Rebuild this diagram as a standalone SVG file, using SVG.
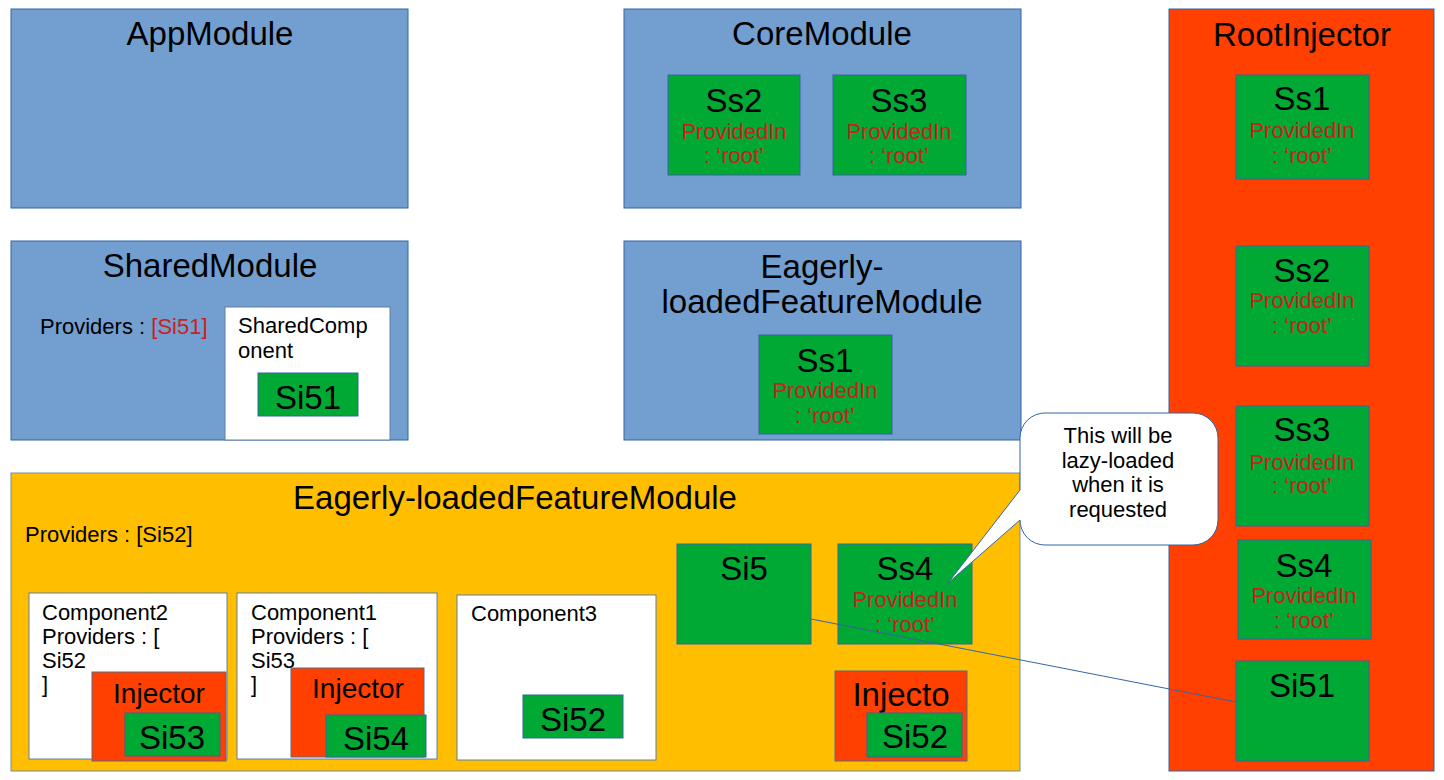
<svg xmlns="http://www.w3.org/2000/svg" width="1444" height="780" viewBox="0 0 1444 780">
<style>
text{font-family:"Liberation Sans",Arial,sans-serif;fill:#000}
.blue{fill:#729fcf;stroke:#3465a4;stroke-width:1}
.green{fill:#00a933;stroke:#3465a4;stroke-width:1}
.red{fill:#ff4000;stroke:#3465a4;stroke-width:1}
.inj{fill:#ff4000;stroke:#5a6a8a;stroke-width:1}
.yellow{fill:#ffbf00;stroke:#7a8aa0;stroke-width:1}
.white{fill:#fff;stroke:#5f7fa8;stroke-width:1}
.t32{font-size:33px;text-anchor:middle}
.t28{font-size:28px;text-anchor:middle}
.t22{font-size:22px}
.pr{font-size:22px;fill:#c9211e;text-anchor:middle}
.call{font-size:22px;text-anchor:middle}
.conn{stroke:#3465a4;stroke-width:1;fill:none}
</style>
<rect width="1444" height="780" fill="#fff"/>

<g id="appModule">
<rect class="blue" x="11" y="9" width="397" height="199"/>
<text class="t32" x="210" y="45">AppModule</text>
</g>

<g id="coreModule">
<rect class="blue" x="624" y="9" width="397" height="199"/>
<text class="t32" x="822" y="45">CoreModule</text>
<g id="core-ss2">
<rect class="green" x="668" y="75" width="132" height="100"/>
<text class="t32" x="734" y="112">Ss2</text>
<text class="pr" x="734" y="139">ProvidedIn</text>
<text class="pr" x="734" y="163">: ‘root’</text>
</g>
<g id="core-ss3">
<rect class="green" x="833" y="75" width="133" height="100"/>
<text class="t32" x="899" y="112">Ss3</text>
<text class="pr" x="899" y="139">ProvidedIn</text>
<text class="pr" x="899" y="163">: ‘root’</text>
</g>
</g>

<g id="sharedModule">
<rect class="blue" x="11" y="241" width="397" height="199"/>
<text class="t32" x="210" y="277">SharedModule</text>
<text class="t22" x="40" y="334">Providers : <tspan fill="#c9211e">[Si51]</tspan></text>
<g id="sharedComponent">
<rect class="white" x="225" y="307" width="165" height="133"/>
<text class="t22" x="238" y="333">SharedComp</text>
<text class="t22" x="238" y="358">onent</text>
<rect class="green" x="258" y="373" width="100" height="43"/>
<text class="t32" x="308" y="409">Si51</text>
</g>
</g>

<g id="eagerFeatureModuleBlue">
<rect class="blue" x="624" y="241" width="397" height="199"/>
<text class="t32" x="822" y="278">Eagerly-</text>
<text class="t32" x="822" y="313">loadedFeatureModule</text>
<rect class="green" x="759" y="335" width="133" height="99"/>
<text class="t32" x="825" y="372">Ss1</text>
<text class="pr" x="825" y="398">ProvidedIn</text>
<text class="pr" x="825" y="423">: ‘root’</text>
</g>

<g id="rootInjector">
<rect class="red" x="1169" y="9" width="265" height="762"/>
<text class="t32" x="1302" y="46">RootInjector</text>
<g id="root-ss1">
<rect class="green" x="1236" y="75" width="133" height="104"/>
<text class="t32" x="1302" y="110">Ss1</text>
<text class="pr" x="1302" y="138">ProvidedIn</text>
<text class="pr" x="1302" y="163">: ‘root’</text>
</g>
<g id="root-ss2">
<rect class="green" x="1236" y="246" width="133" height="120"/>
<text class="t32" x="1302" y="282">Ss2</text>
<text class="pr" x="1302" y="308">ProvidedIn</text>
<text class="pr" x="1302" y="333">: ‘root’</text>
</g>
<g id="root-ss3">
<rect class="green" x="1236" y="406" width="133" height="120"/>
<text class="t32" x="1302" y="441">Ss3</text>
<text class="pr" x="1302" y="470">ProvidedIn</text>
<text class="pr" x="1302" y="493">: ‘root’</text>
</g>
<g id="root-ss4">
<rect class="green" x="1238" y="540" width="133" height="99"/>
<text class="t32" x="1304" y="577">Ss4</text>
<text class="pr" x="1304" y="603">ProvidedIn</text>
<text class="pr" x="1304" y="628">: ‘root’</text>
</g>
<g id="root-si51">
<rect class="green" x="1236" y="661" width="133" height="100"/>
<text class="t32" x="1302" y="697">Si51</text>
</g>
</g>

<g id="eagerFeatureModule">
<rect class="yellow" x="11" y="473" width="1009" height="298"/>
<text class="t32" x="515" y="509">Eagerly-loadedFeatureModule</text>
<text class="t22" x="25" y="542">Providers : [Si52]</text>

<g id="component2">
<rect class="white" x="29" y="593" width="198" height="166"/>
<text class="t22" x="42" y="620">Component2</text>
<text class="t22" x="42" y="644">Providers : [</text>
<text class="t22" x="42" y="668">Si52</text>
<text class="t22" x="42" y="692">]</text>
<rect class="inj" x="92" y="672" width="134" height="89"/>
<text class="t28" x="159" y="703">Injector</text>
<rect class="green" x="125" y="713" width="95" height="43"/>
<text class="t32" x="172" y="749">Si53</text>
</g>

<g id="component1">
<rect class="white" x="237" y="593" width="200" height="166"/>
<text class="t22" x="251" y="620">Component1</text>
<text class="t22" x="251" y="644">Providers : [</text>
<text class="t22" x="251" y="668">Si53</text>
<text class="t22" x="251" y="692">]</text>
<rect class="inj" x="291" y="668" width="133" height="89"/>
<text class="t28" x="358" y="698">Injector</text>
<rect class="green" x="326" y="715" width="100" height="42"/>
<text class="t32" x="376" y="750">Si54</text>
</g>

<g id="component3">
<rect class="white" x="457" y="595" width="199" height="165"/>
<text class="t22" x="471" y="621">Component3</text>
<rect class="green" x="523" y="695" width="100" height="43"/>
<text class="t32" x="573" y="731">Si52</text>
</g>

<g id="si5">
<rect class="green" x="677" y="544" width="134" height="100"/>
<text class="t32" x="744" y="580">Si5</text>
</g>

<g id="ss4">
<rect class="green" x="838" y="544" width="134" height="100"/>
<text class="t32" x="905" y="580">Ss4</text>
<text class="pr" x="905" y="607">ProvidedIn</text>
<text class="pr" x="905" y="632">: ‘root’</text>
</g>

<g id="injecto">
<rect class="inj" x="835" y="671" width="132" height="90"/>
<text class="t32" x="901" y="706">Injecto</text>
<rect class="green" x="867" y="713" width="95" height="44"/>
<text class="t32" x="915" y="748">Si52</text>
</g>
</g>

<g id="callout">
<path d="M1045,413 H1193 A25,25 0 0 1 1218,438 V520 A25,25 0 0 1 1193,545 H1045 A25,25 0 0 1 1020,520 L948,583 L1020,490 V438 A25,25 0 0 1 1045,413 Z" fill="#fff" stroke="#3465a4" stroke-width="1"/>
<text class="call" x="1118" y="443">This will be</text>
<text class="call" x="1118" y="468">lazy-loaded</text>
<text class="call" x="1118" y="492">when it is</text>
<text class="call" x="1118" y="517">requested</text>
</g>

<g id="connectors">
<line class="conn" x1="811" y1="619" x2="1236" y2="702"/>
</g>
</svg>
